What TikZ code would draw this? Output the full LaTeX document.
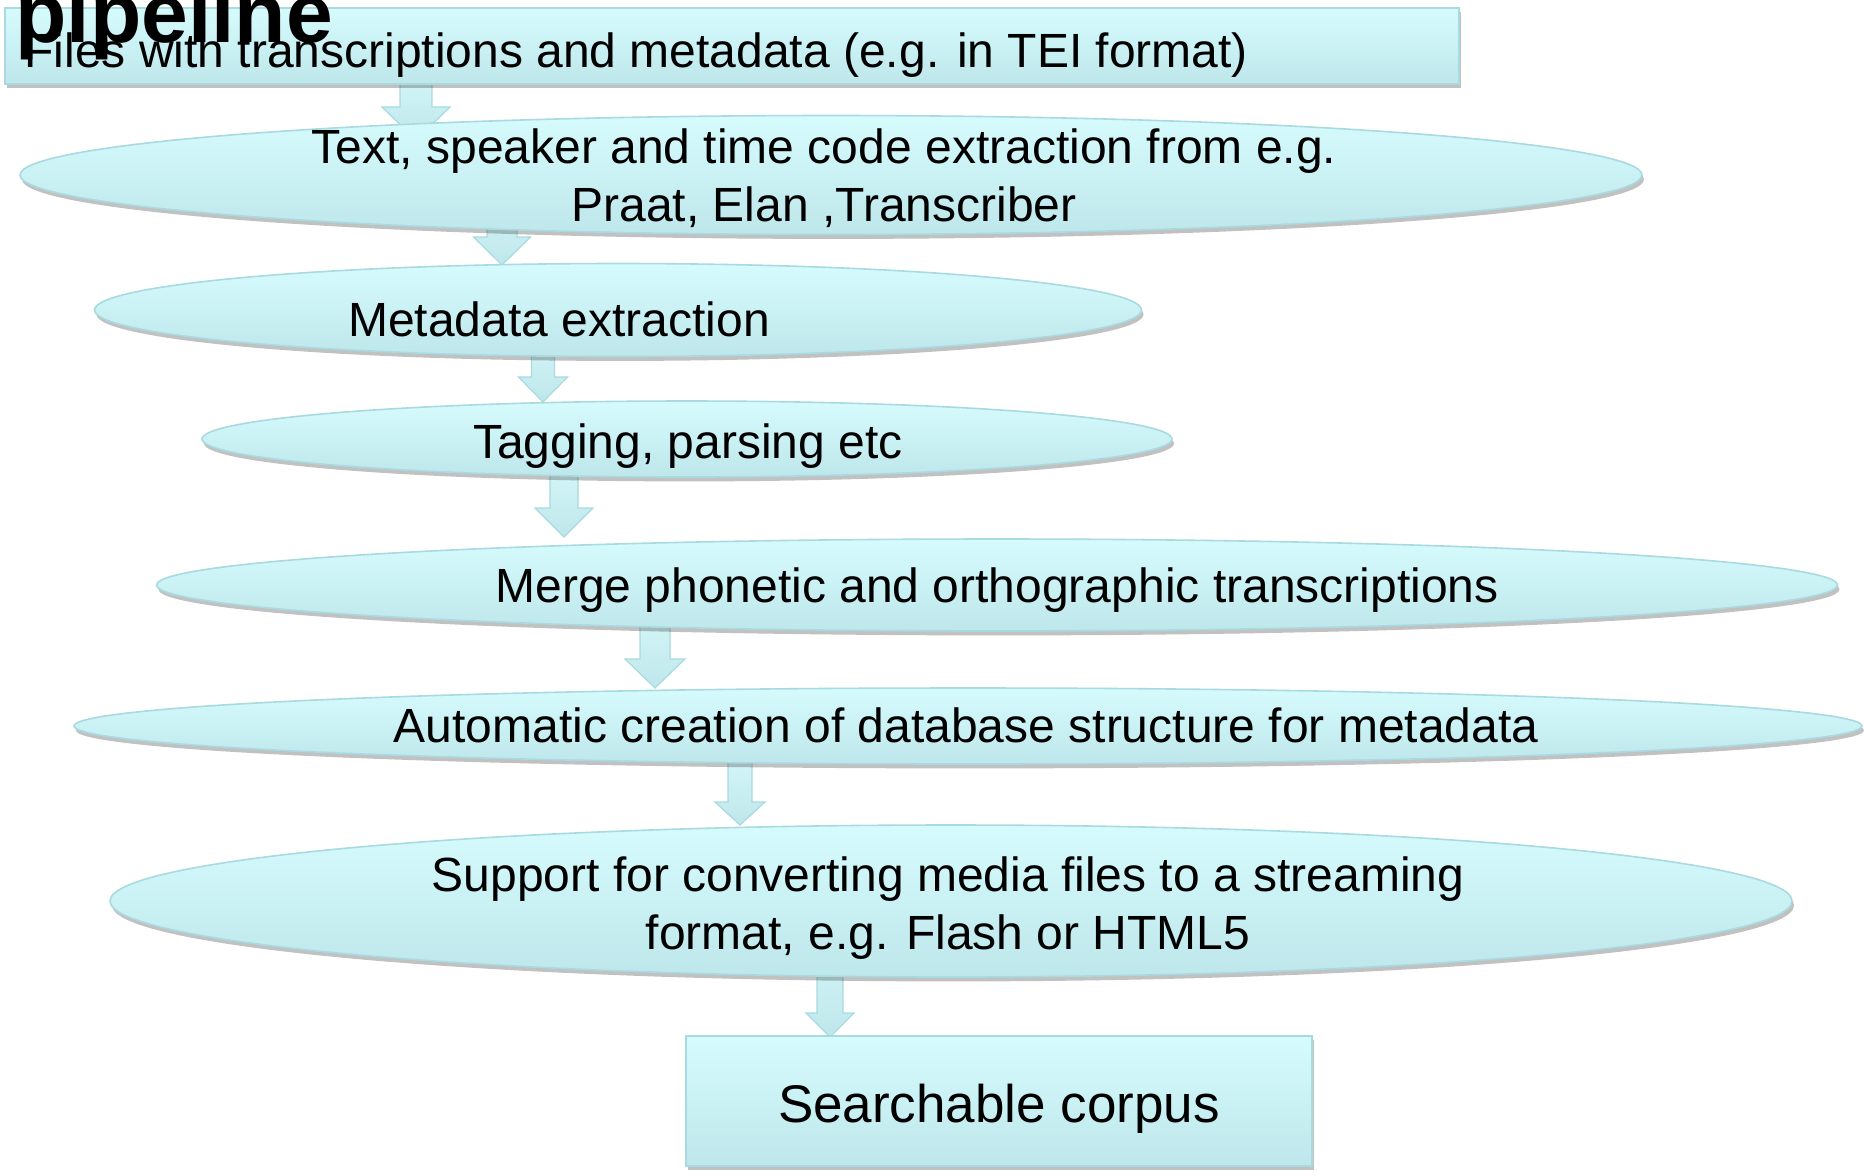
\documentclass[tikz,border=0pt]{standalone}
\usepackage{fontspec}
\setmainfont{Liberation Sans}
\usetikzlibrary{shadows,calc}
\pgfdeclarelayer{background}
\pgfsetlayers{background,main}
\definecolor{filltop}{RGB}{214,251,253}
\definecolor{fillbot}{RGB}{190,231,235}
\definecolor{edgecol}{RGB}{168,218,223}
\tikzset{
  boxfill/.style={top color=filltop, bottom color=fillbot, draw=edgecol, line width=0.8pt,
    drop shadow={shadow xshift=1pt, shadow yshift=-2.2pt, opacity=0.35, fill=black!70}},
  rectbox/.style={boxfill, rectangle, inner sep=0pt},
  ellbox/.style={boxfill, ellipse, inner sep=0pt},
  txt/.style={inner sep=0pt, font=\fontsize{24}{29}\selectfont, align=center},
  arrowfill/.style={top color=filltop!80!white, bottom color=fillbot, draw=edgecol, line width=0.6pt},
}
\usetikzlibrary{shapes.geometric}
\begin{document}
\begin{tikzpicture}[x=0.5pt, y=-0.5pt]
\useasboundingbox (0,0) rectangle (1865,1175);

% boxes
\node[rectbox, minimum width=1454*0.5pt, minimum height=76*0.5pt] (r1) at (732,46) {};
\node[ellbox, minimum width=1622*0.5pt, minimum height=119*0.5pt] (e1) at (831,175) {};
\node[ellbox, minimum width=1047*0.5pt, minimum height=93*0.5pt] (e2) at (618,310) {};
\node[ellbox, minimum width=970*0.5pt, minimum height=76*0.5pt] (e3) at (687,439) {};
\node[ellbox, minimum width=1681*0.5pt, minimum height=92*0.5pt] (e4) at (997,585) {};
\node[ellbox, minimum width=1788*0.5pt, minimum height=76*0.5pt] (e5) at (968,726) {};
\node[ellbox, minimum width=1682*0.5pt, minimum height=152*0.5pt] (e6) at (951,901) {};
\node[rectbox, minimum width=626*0.5pt, minimum height=130*0.5pt] (r2) at (999,1101) {};

% block arrows (behind the boxes)
\begin{pgfonlayer}{background}
\foreach \an/\from/\ax/\hb/\tip/\sw/\hw in {
  a1/r1/416/107/140/32/68,
  a2/e1/502/237/265/30/57,
  a3/e2/543/377/402/23/49,
  a4/e3/564/508/537/28/58,
  a5/e4/655/659/688/30/60,
  a6/e5/740/802/825/24/50,
  a7/e6/830/1013/1037/26/48}{
  \path[arrowfill] (\ax-\sw/2,0 |- \from.center) -- (\ax-\sw/2,\hb) -- (\ax-\hw/2,\hb)
    -- (\ax,\tip) coordinate (\an) -- (\ax+\hw/2,\hb) -- (\ax+\sw/2,\hb)
    -- (\ax+\sw/2,0 |- \from.center) -- cycle;
}
\end{pgfonlayer}

% texts
\node[txt, anchor=base west] (t1) at (24,67) {Files with transcriptions and metadata (e.g. in TEI format)};
\node[txt, anchor=base] (t2) at (824,221) {Text, speaker and time code extraction from e.g.\\Praat, Elan ,Transcriber};
\node[txt, anchor=base] (t3) at (559,336) {Metadata extraction};
\node[txt, anchor=base] (t4) at (688,458) {Tagging, parsing etc};
\node[txt, anchor=base] (t5) at (997,602) {Merge phonetic and orthographic transcriptions};
\node[txt, anchor=base] (t6) at (966,742) {Automatic creation of database structure for metadata};
\node[txt, anchor=base] (t7) at (948,949) {Support for converting media files to a streaming\\format, e.g. Flash or HTML5};
\node[txt, anchor=base, font=\fontsize{26.5}{32}\selectfont] (t8) at (999,1122) {Searchable corpus};
\node[inner sep=0pt, anchor=base west, font=\fontsize{42}{50}\selectfont\bfseries] (title) at (15,42) {pipeline};
\end{tikzpicture}
\end{document}
